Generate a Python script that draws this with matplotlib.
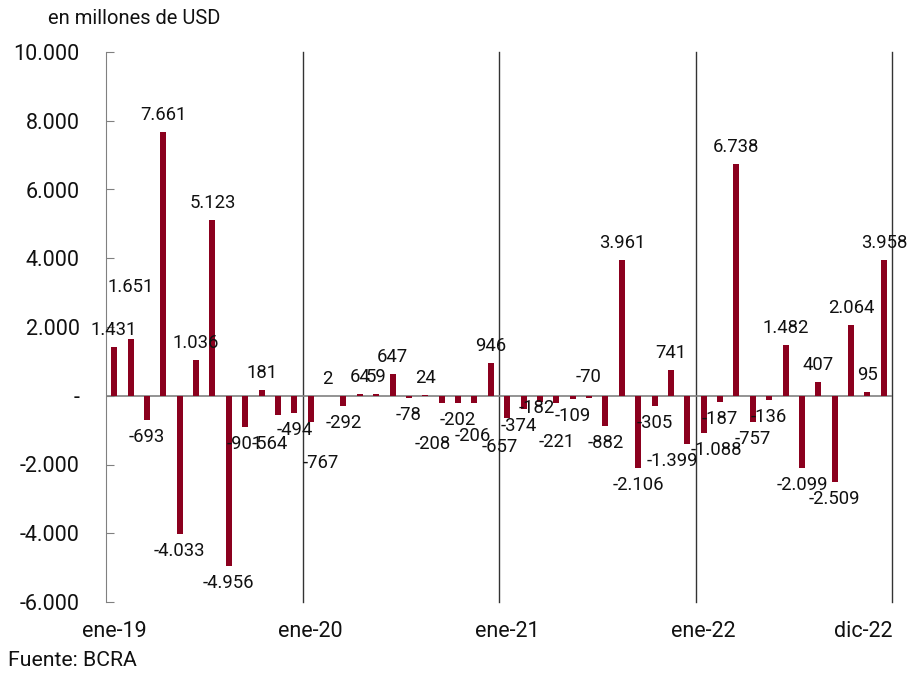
import matplotlib
matplotlib.use("Agg")
import matplotlib.pyplot as plt
import matplotlib.transforms as mtransforms
import numpy as np

plt.rcParams['font.family'] = ['Roboto', 'DejaVu Sans']

# saldo mensual, en millones de USD (ene-19 a dic-22)
values_2019 = [1431, 1651, -693, 7661, -4033, 1036, 5123, -4956, -901, 181, -564, -494]
values_2020 = [-767, 2, -292, 64, 59, 647, -78, 24, -208, -202, -206, 946]
values_2021 = [-657, -374, -182, -221, -109, -70, -882, 3961, -2106, -305, 741, -1399]
values_2022 = [-1088, -187, 6738, -757, -136, 1482, -2099, 407, -2509, 2064, 95, 3958]
values = values_2019 + values_2020 + values_2021 + values_2022

tick_pos = [0, 12, 24, 36, 47]
tick_labels = ["ene-19", "ene-20", "ene-21", "ene-22", "dic-22"]
y_ticks = [-6000, -4000, -2000, 0, 2000, 4000, 6000, 8000, 10000]

bar_color = "#8B001E"

# ajustes manuales de etiquetas (dx, dy en px)
nudges = {1: (0, 35), 10: (-8, -12), 12: (10, -24), 20: (-9, -24), 22: (-2, -16),
          24: (-7, -12), 25: (-5, 0), 26: (-3, 11), 27: (0, -22), 29: (0, 38),
          35: (-15, 0), 36: (13, 0)}

def fmt(v):
    if v == 0:
        return "-"
    return f"{v:,.0f}".replace(",", ".")

fig = plt.figure(figsize=(9.11, 6.76), dpi=100)
ax = fig.add_axes([106 / 911, 74 / 676, 786 / 911, 550 / 676])

x = np.arange(len(values))
ax.bar(x, values, width=0.36, color=bar_color, zorder=3)

ax.set_xlim(-0.5, 47.5)
ax.set_ylim(-6000, 10000)
ax.axhline(0, color="#808080", lw=1.2, zorder=2)
for xv in [11.5, 23.5, 35.5, 47.5]:
    ax.axvline(xv, color="#333333", lw=1, zorder=1, clip_on=False)

px = 72 / 100
for i, v in enumerate(values):
    dx, dy = nudges.get(i, (0, 0))
    off = 17 if v >= 0 else -17
    ax.annotate(fmt(v), (i, v), xytext=(dx * px, (off + dy) * px),
                textcoords="offset points", ha="center", va="center",
                fontsize=13.3, color="#111111", zorder=4)

ax.set_yticks(y_ticks)
ax.set_yticklabels([fmt(v) for v in y_ticks])
ax.tick_params(axis="y", direction="in", length=6, color="#808080",
               labelsize=15.5, pad=19, labelcolor="#111111")

ax.set_xticks(tick_pos)
ax.set_xticklabels(tick_labels)
ax.tick_params(axis="x", length=0, labelsize=15.5, pad=14, labelcolor="#111111")
last = ax.get_xticklabels()[-1]
last.set_horizontalalignment("right")
last.set_transform(last.get_transform() + mtransforms.ScaledTranslation(9 / 100, 0, fig.dpi_scale_trans))

for s in ["top", "right", "bottom"]:
    ax.spines[s].set_visible(False)
ax.spines["left"].set_color("#808080")

fig.text(48 / 911, 1 - 18 / 676, "en millones de USD", fontsize=14.5,
         va="center", ha="left", color="#111111")
fig.text(8 / 911, 1 - 661 / 676, "Fuente: BCRA", fontsize=15.3,
         va="center", ha="left", color="#111111")

fig.savefig("out.png", dpi=100)
